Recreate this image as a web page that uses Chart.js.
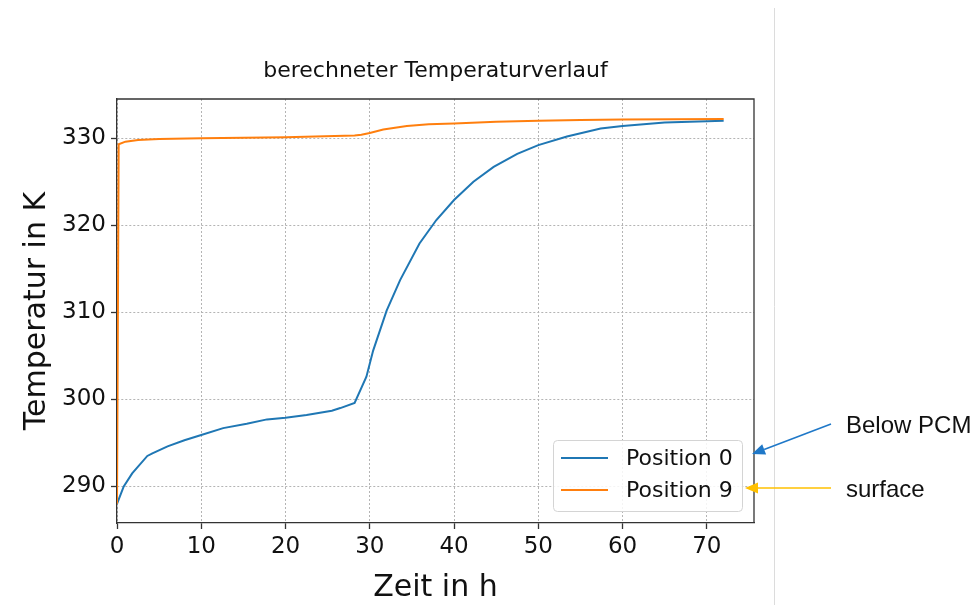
<!DOCTYPE html>
<html>
<head>
<meta charset="utf-8">
<script src="https://cdn.jsdelivr.net/npm/chart.js@4.4.0/dist/chart.umd.min.js"></script>
<style>
  html, body { margin: 0; padding: 0; background: #fff; }
  #wrap { position: relative; width: 974px; height: 605px; }
</style>
</head>
<body>
<div id="wrap"><canvas id="tempChart" width="974" height="605"></canvas></div>
<script>
// Zeit in h / Temperatur in K
const pos0Time = [0, 0.8, 1.8, 3.6, 4.2, 6, 8, 10, 12.6, 15.4, 17.8, 20, 22.5, 25.5, 26.5, 28.2,
  29.6, 30.4, 32, 33.6, 35.9, 37.9, 40, 42.3, 44.7, 47.5, 50, 53.4, 57.4, 60, 65, 72];
const pos0Temp = [288.0, 290.0, 291.5, 293.5, 293.8, 294.6, 295.3, 295.9, 296.7, 297.2, 297.7, 297.9, 298.2, 298.7, 299.0, 299.6,
  302.6, 305.6, 310.2, 313.7, 317.9, 320.6, 322.9, 325.0, 326.7, 328.2, 329.2, 330.2, 331.1, 331.4, 331.8, 332.0];

const pos9Time = [0, 0.2, 1, 2.5, 5, 10, 20, 28.2, 29, 30, 31.6, 34.4, 37, 40, 45, 50, 55, 60, 72];
const pos9Temp = [288.0, 329.3, 329.6, 329.8, 329.9, 330.0, 330.1, 330.3, 330.4, 330.6, 331.0, 331.4, 331.6, 331.7, 331.9, 332.0, 332.1, 332.15, 332.2];

const seriesLabels = ['Position 0', 'Position 9'];
const seriesColors = ['#1f77b4', '#ff7f0e'];

const xRange = [0, 75.6];
const yRange = [285.8, 334.5];

const toPoints = (xs, ys) => xs.map((x, i) => ({ x: x, y: ys[i] }));

const DEJAVU = "'DejaVu Sans', sans-serif";
const ARIAL = "'Liberation Sans', Arial, sans-serif";

// title, frame, legend and side notes
const decorations = {
  id: 'decorations',
  afterDatasetsDraw(chart) {
    const ctx = chart.ctx;
    const a = chart.chartArea;
    ctx.save();

    // top and right spines
    ctx.strokeStyle = '#333';
    ctx.lineWidth = 1.3;
    ctx.beginPath();
    ctx.moveTo(a.left, a.top);
    ctx.lineTo(a.right, a.top);
    ctx.lineTo(a.right, a.bottom);
    ctx.stroke();

    // title
    ctx.fillStyle = '#111';
    ctx.font = '22px ' + DEJAVU;
    ctx.textAlign = 'center';
    ctx.textBaseline = 'alphabetic';
    ctx.fillText('berechneter Temperaturverlauf', (a.left + a.right) / 2, 77);

    // legend box
    const lx = 553, ly = 440, lw = 189, lh = 71;
    ctx.fillStyle = 'rgba(255,255,255,0.85)';
    ctx.strokeStyle = '#d4d4d4';
    ctx.lineWidth = 1;
    ctx.beginPath();
    ctx.roundRect(lx + 0.5, ly + 0.5, lw, lh, 4);
    ctx.fill();
    ctx.stroke();

    const rows = [458, 490];
    ctx.font = '22px ' + DEJAVU;
    ctx.textAlign = 'left';
    ctx.textBaseline = 'middle';
    chart.data.datasets.forEach((ds, i) => {
      ctx.strokeStyle = ds.borderColor;
      ctx.lineWidth = 2;
      ctx.beginPath();
      ctx.moveTo(561, rows[i]);
      ctx.lineTo(608, rows[i]);
      ctx.stroke();
      ctx.fillStyle = '#111';
      ctx.fillText(ds.label, 626, rows[i] + 1);
    });

    // separator line on the right
    ctx.strokeStyle = '#dcdcdc';
    ctx.lineWidth = 1;
    ctx.beginPath();
    ctx.moveTo(774.5, 8);
    ctx.lineTo(774.5, 605);
    ctx.stroke();

    // side notes with arrows
    arrow(ctx, 831, 424, 752, 454, '#1f78c8');
    arrow(ctx, 831, 488, 745, 488, '#ffc000');
    ctx.fillStyle = '#111';
    ctx.font = '24px ' + ARIAL;
    ctx.textAlign = 'left';
    ctx.textBaseline = 'alphabetic';
    ctx.fillText('Below PCM', 846, 433);
    ctx.fillText('surface', 846, 497);

    ctx.restore();
  }
};

function arrow(ctx, x1, y1, x2, y2, color) {
  const ang = Math.atan2(y2 - y1, x2 - x1);
  const headLen = 13, headHalf = 5.5;
  const bx = x2 - headLen * Math.cos(ang);
  const by = y2 - headLen * Math.sin(ang);
  ctx.strokeStyle = color;
  ctx.fillStyle = color;
  ctx.lineWidth = 1.6;
  ctx.beginPath();
  ctx.moveTo(x1, y1);
  ctx.lineTo(bx, by);
  ctx.stroke();
  ctx.beginPath();
  ctx.moveTo(x2, y2);
  ctx.lineTo(bx + headHalf * Math.sin(ang), by - headHalf * Math.cos(ang));
  ctx.lineTo(bx - headHalf * Math.sin(ang), by + headHalf * Math.cos(ang));
  ctx.closePath();
  ctx.fill();
}

const gridStyle = {
  color: '#b4b4b4',
  lineWidth: 1,
  drawTicks: true,
  tickLength: 6,
  tickColor: '#333',
  tickWidth: 1.3,
  tickBorderDash: []
};

// border.dash dashes the grid lines in Chart.js v4
const borderStyle = { color: '#333', width: 1.3, dash: [2, 2] };

new Chart(document.getElementById('tempChart'), {
  type: 'line',
  data: {
    datasets: [
      {
        label: seriesLabels[0],
        data: toPoints(pos0Time, pos0Temp),
        borderColor: seriesColors[0],
        backgroundColor: seriesColors[0],
        borderWidth: 2,
        pointRadius: 0,
        tension: 0,
        order: 2
      },
      {
        label: seriesLabels[1],
        data: toPoints(pos9Time, pos9Temp),
        borderColor: seriesColors[1],
        backgroundColor: seriesColors[1],
        borderWidth: 2,
        pointRadius: 0,
        tension: 0,
        order: 1
      }
    ]
  },
  options: {
    responsive: false,
    animation: false,
    devicePixelRatio: 1,
    layout: { padding: { left: 0, top: 99, right: 220, bottom: 0 } },
    plugins: {
      legend: { display: false },
      title: { display: false },
      tooltip: { enabled: false }
    },
    scales: {
      x: {
        type: 'linear',
        min: xRange[0],
        max: xRange[1],
        afterFit: (scale) => { scale.height = 82; },
        ticks: {
          stepSize: 10,
          includeBounds: false,
          maxRotation: 0,
          padding: 4,
          color: '#111',
          font: { family: DEJAVU, size: 23 }
        },
        grid: gridStyle,
        border: borderStyle,
        title: {
          display: true,
          text: 'Zeit in h',
          color: '#111',
          font: { family: DEJAVU, size: 30 },
          padding: { top: 0, bottom: -1 }
        }
      },
      y: {
        type: 'linear',
        min: yRange[0],
        max: yRange[1],
        afterFit: (scale) => { scale.width = 117; },
        ticks: {
          stepSize: 10,
          includeBounds: false,
          padding: 5,
          color: '#111',
          font: { family: DEJAVU, size: 23 }
        },
        grid: gridStyle,
        border: borderStyle,
        title: {
          display: true,
          text: 'Temperatur in K',
          color: '#111',
          font: { family: DEJAVU, size: 30 },
          padding: { top: 19, bottom: 0 }
        }
      }
    }
  },
  plugins: [decorations]
});
</script>
</body>
</html>
